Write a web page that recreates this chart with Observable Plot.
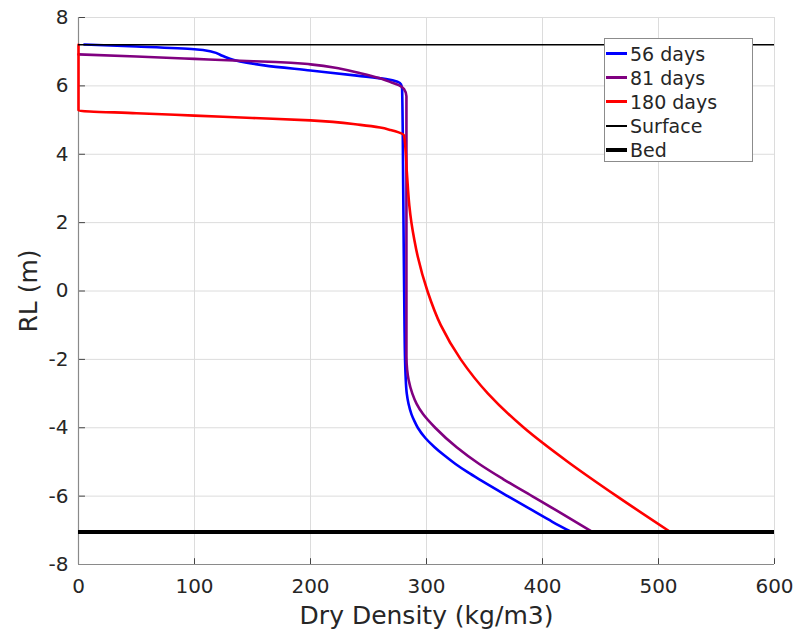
<!DOCTYPE html>
<html>
<head>
<meta charset="utf-8">
<script src="https://cdn.jsdelivr.net/npm/d3@7"></script>
<script src="https://cdn.jsdelivr.net/npm/@observablehq/plot@0.6"></script>
<style>
  body { margin: 0; background: #fff; }
  #wrap { position: relative; width: 795px; height: 629px; font-family: "DejaVu Sans", sans-serif; }
  #legend { position: absolute; left: 604px; top: 38px; width: 147px; height: 122px; border: 1px solid #8c8c8c; background: #fff; box-sizing: content-box; }
  .row { position: absolute; left: 0; height: 24px; display: flex; align-items: center; font-size: 19px; color: #262626; white-space: nowrap; }
  .sw { width: 21px; margin-left: 1px; margin-right: 3px; }
</style>
</head>
<body>
<div id="wrap"><div id="chart"></div><div id="legend"></div></div>
<script>
// ---- data ----
const xTicks = [0, 100, 200, 300, 400, 500, 600];
const yTicks = [-8, -6, -4, -2, 0, 2, 4, 6, 8];

const seriesNames = ["56 days", "81 days", "180 days"];
const seriesColors = ["#0000ff", "#800080", "#ff0000"];

const blue56x = [5, 50, 100, 115, 124, 134, 145, 160, 200, 240, 265, 275, 278, 279, 280, 281, 281.5, 282, 283, 284.5, 287, 289.5, 292.5, 299, 307, 315, 325, 335.5, 347, 370, 391.5, 408.5, 425];
const blue56y = [7.21, 7.15, 7.07, 7.0, 6.88, 6.76, 6.68, 6.6, 6.45, 6.3, 6.2, 6.12, 6.05, 5.9, 2.7, -0.9, -2.0, -2.5, -3.0, -3.3, -3.6, -3.8, -4.0, -4.3, -4.57, -4.8, -5.06, -5.3, -5.54, -6.0, -6.42, -6.75, -7.05];

const purple81x = [0, 50, 100, 134, 170, 200, 226, 243, 260, 269, 276, 280.6, 282.7, 282.7, 283.3, 284.6, 287.8, 291.5, 297, 307.5, 326, 345.5, 366, 391, 412, 443];
const purple81y = [6.92, 6.86, 6.79, 6.74, 6.7, 6.63, 6.5, 6.37, 6.22, 6.11, 6.02, 5.91, 5.7, -1.9, -2.3, -2.6, -3.0, -3.3, -3.6, -4.0, -4.57, -5.06, -5.5, -6.0, -6.42, -7.05];

const red180x = [0, 0, 50, 100, 150, 200, 243, 260, 269, 276, 280.6, 282, 283, 284, 285.2, 287, 289.5, 292.5, 300.8, 312.3, 329.5, 353, 384, 422, 464, 510.3];
const red180y = [7.2, 5.28, 5.2, 5.13, 5.06, 4.99, 4.86, 4.78, 4.71, 4.64, 4.55, 4.1, 3.5, 3.0, 2.5, 2.0, 1.5, 1.0, 0, -1.0, -2.0, -3.0, -4.0, -5.0, -6.0, -7.05];

const surfaceRL = 7.2;
const bedRL = -7.05;
const xRange = [0, 600];
const yRange = [-8, 8];
const xLabel = "Dry Density (kg/m3)";
const yLabel = "RL (m)";

// ---- build ----
const toPts = (xs, ys) => xs.map((x, i) => ({x, y: ys[i]}));
const series = [toPts(blue56x, blue56y), toPts(purple81x, purple81y), toPts(red180x, red180y)];

const chart = Plot.plot({
  width: 795,
  height: 629,
  marginLeft: 78,
  marginRight: 21,
  marginTop: 17,
  marginBottom: 65,
  style: {fontFamily: "DejaVu Sans, sans-serif", fontSize: "20px", color: "#262626", background: "#fff"},
  x: {domain: xRange, ticks: xTicks, tickFormat: d => String(d), tickSize: 0, tickPadding: 14, label: null, grid: false},
  y: {domain: yRange, ticks: yTicks, tickFormat: d => String(d), tickSize: 0, tickPadding: 10, label: null, grid: false},
  marks: [
    Plot.ruleX(xTicks, {x: d => d, stroke: "#dcdcdc", strokeWidth: 1}),
    Plot.ruleY(yTicks, {y: d => d, stroke: "#dcdcdc", strokeWidth: 1}),
    Plot.ruleX(xTicks, {x: d => d, y1: yRange[0], y2: yRange[0] + 0.17, stroke: "#444", strokeWidth: 1}),
    Plot.ruleY(yTicks, {y: d => d, x1: xRange[0], x2: xRange[0] + 6, stroke: "#444", strokeWidth: 1}),
    Plot.ruleX([xRange[0]], {stroke: "#8a8a8a", strokeWidth: 1.2}),
    Plot.ruleY([yRange[0]], {stroke: "#8a8a8a", strokeWidth: 1.2}),
    ...series.map((pts, i) => Plot.line(pts, {x: "x", y: "y", stroke: seriesColors[i], strokeWidth: 2.6, curve: "monotone-y", strokeLinejoin: "round"})),
    Plot.ruleY([surfaceRL], {stroke: "#000", strokeWidth: 1.5}),
    Plot.ruleY([bedRL], {stroke: "#000", strokeWidth: 4}),
    Plot.text([xLabel], {frameAnchor: "bottom", lineAnchor: "middle", textAnchor: "middle", dy: 51, text: d => d, fontSize: 25, fill: "#262626"}),
    Plot.text([yLabel], {frameAnchor: "left", lineAnchor: "middle", textAnchor: "middle", dx: -50, rotate: -90, text: d => d, fontSize: 25, fill: "#262626"})
  ]
});
document.getElementById("chart").appendChild(chart);

// ---- legend ----
const legendItems = [
  ...seriesNames.map((n, i) => ({name: n, color: seriesColors[i], w: 3})),
  {name: "Surface", color: "#000", w: 1.5},
  {name: "Bed", color: "#000", w: 4}
];
const lg = document.getElementById("legend");
legendItems.forEach((it, i) => {
  const r = document.createElement("div");
  r.className = "row";
  r.style.top = (2.5 + i * 24.2) + "px";
  const sw = document.createElement("div");
  sw.className = "sw";
  sw.style.height = it.w + "px";
  sw.style.background = it.color;
  const t = document.createElement("span");
  t.textContent = it.name;
  r.appendChild(sw); r.appendChild(t);
  lg.appendChild(r);
});
</script>
</body>
</html>
